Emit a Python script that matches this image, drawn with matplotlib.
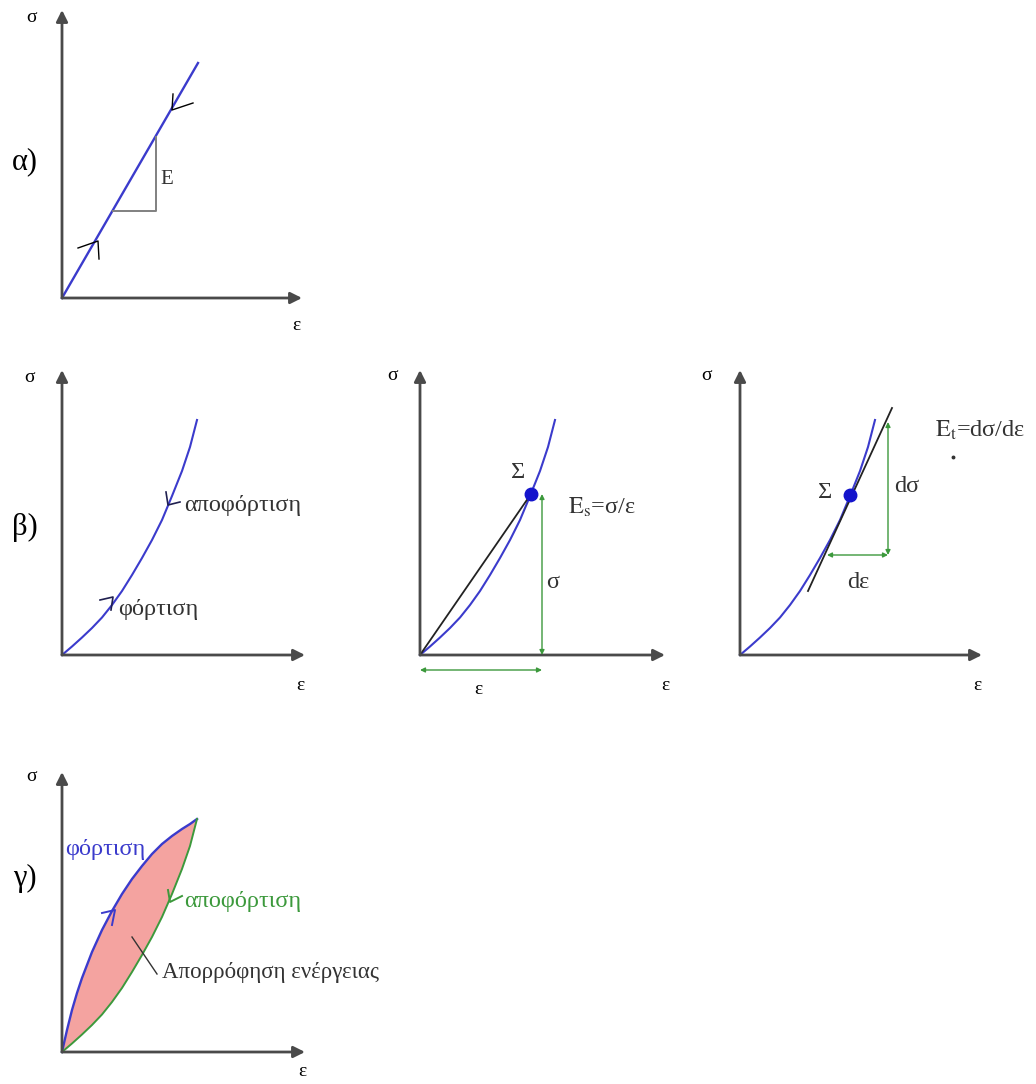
import matplotlib.pyplot as plt

plt.rcParams['font.family'] = ['Liberation Serif', 'DejaVu Serif']
plt.rcParams['mathtext.fontset'] = 'stix'

W, H = 1036, 1084
AXC = '#4a4a4a'
BLUE = '#3b3bcc'
GREEN = '#3c993c'
FILL = '#f4a3a0'

# α) linear elastic
lin_eps = [0, 1.36]
lin_sig = [0, 2.35]
slope_tri_eps = [0.51, 0.94, 0.94]
slope_tri_sig = [0.87, 0.87, 1.61]

# β) nonlinear elastic curve (read off the picture)
nl_eps = [0, 0.1, 0.2, 0.3, 0.4, 0.5, 0.6, 0.7, 0.8, 0.9, 1.0, 1.1, 1.2, 1.28, 1.35]
nl_sig = [0, 0.085, 0.175, 0.27, 0.375, 0.5, 0.64, 0.80, 0.97, 1.15, 1.35, 1.59, 1.84, 2.08, 2.35]

# point Σ, secant and tangent
pt_sec = (1.11, 1.61)
pt_tan = (1.10, 1.60)
tan_eps = [0.68, 1.52]
tan_sig = [0.64, 2.47]
dsig_x, dsig_y = 1.48, [1.00, 2.33]
deps_y, deps_x = 1.00, [0.87, 1.48]

# γ) hysteresis: loading (concave) and unloading (convex)
load_eps = [0, 0.05, 0.1, 0.15, 0.2, 0.3, 0.4, 0.5, 0.6, 0.7, 0.8, 0.9, 1.0, 1.1, 1.2, 1.28, 1.35]
load_sig = [0, 0.22, 0.42, 0.59, 0.74, 1.0, 1.22, 1.41, 1.58, 1.73, 1.86, 1.98, 2.08, 2.16, 2.23, 2.28, 2.33]
unl_eps = [0, 0.1, 0.2, 0.3, 0.4, 0.5, 0.6, 0.7, 0.8, 0.9, 1.0, 1.1, 1.2, 1.28, 1.35]
unl_sig = [0, 0.085, 0.175, 0.27, 0.375, 0.5, 0.64, 0.80, 0.97, 1.15, 1.35, 1.58, 1.83, 2.06, 2.33]

fig = plt.figure(figsize=(W / 100, H / 100), dpi=100)


def panel(ox, oy, xend=2.42, ytop=2.85):
    ax = fig.add_axes([(ox - 70) / W, 1 - (oy + 40) / H, 340 / W, 330 / H])
    ax.set_xlim(-0.70, 2.70)
    ax.set_ylim(-0.40, 2.90)
    ax.axis('off')
    for end in [(xend, 0), (0, ytop)]:
        ax.annotate('', xy=end, xytext=(0, 0),
                    arrowprops=dict(arrowstyle='-|>', color=AXC, lw=2.0,
                                    mutation_scale=17, shrinkA=0, shrinkB=0))
    return ax


def garrow(ax, p0, p1):
    ax.annotate('', xy=p1, xytext=p0,
                arrowprops=dict(arrowstyle='<|-|>', color=GREEN, lw=1.0,
                                mutation_scale=7, shrinkA=0, shrinkB=0))


fs = 17.5
small = 14
big = 22

# α)
ax = panel(62, 298, 2.40, 2.88)
ax.plot(lin_eps, lin_sig, color=BLUE, lw=1.7)
ax.plot(slope_tri_eps, slope_tri_sig, color='#808080', lw=1.4)
ax.plot([0.16, 0.36, 0.37], [0.50, 0.57, 0.39], color='black', lw=1.0)
ax.plot([1.31, 1.10, 1.11], [1.95, 1.88, 2.04], color='black', lw=1.0)
ax.text(0.98, 1.18, 'E', fontsize=15, ha='left', va='center', color='#333333')
ax.text(-0.30, 2.81, 'σ', fontsize=small, ha='center', va='center')
ax.text(2.34, -0.27, 'ε', fontsize=small, ha='center', va='center')
ax.text(-0.37, 1.36, 'α)', fontsize=big, ha='center', va='center')

# β) left
ax = panel(62, 655, 2.43, 2.85)
ax.plot(nl_eps, nl_sig, color=BLUE, lw=1.5)
ax.plot([1.04, 1.06, 1.18], [1.63, 1.50, 1.53], color='#202050', lw=1.2)
ax.plot([0.38, 0.51, 0.49], [0.55, 0.58, 0.45], color='#202050', lw=1.2)
ax.text(1.22, 1.50, 'αποφόρτιση', fontsize=fs, ha='left', va='center', color='#333333')
ax.text(0.56, 0.46, 'φόρτιση', fontsize=fs, ha='left', va='center', color='#333333')
ax.text(-0.32, 2.77, 'σ', fontsize=small, ha='center', va='center')
ax.text(2.38, -0.31, 'ε', fontsize=small, ha='center', va='center')
ax.text(-0.37, 1.28, 'β)', fontsize=big, ha='center', va='center')

# β) middle: secant modulus
ax = panel(420, 655, 2.45, 2.85)
ax.plot(nl_eps, nl_sig, color=BLUE, lw=1.5)
ax.plot([0, pt_sec[0]], [0, pt_sec[1]], color='#222222', lw=1.3)
ax.plot(*pt_sec, 'o', color='#1414cc', ms=9)
garrow(ax, (1.22, pt_sec[1]), (1.22, 0))
garrow(ax, (0, -0.15), (1.22, -0.15))
ax.text(0.98, 1.82, 'Σ', fontsize=fs, ha='center', va='center', color='#333333')
ax.text(1.48, 1.48, r'$\mathrm{E_s}$=σ/ε', fontsize=fs, ha='left', va='center', color='#333333')
ax.text(1.33, 0.73, 'σ', fontsize=fs, ha='center', va='center', color='#333333')
ax.text(0.58, -0.35, 'ε', fontsize=small, ha='center', va='center')
ax.text(-0.28, 2.80, 'σ', fontsize=small, ha='center', va='center')
ax.text(2.45, -0.31, 'ε', fontsize=small, ha='center', va='center')

# β) right: tangent modulus
ax = panel(740, 655, 2.42, 2.85)
ax.plot(nl_eps, nl_sig, color=BLUE, lw=1.5)
ax.plot(tan_eps, tan_sig, color='#222222', lw=1.3)
ax.plot(*pt_tan, 'o', color='#1414cc', ms=9)
garrow(ax, (dsig_x, dsig_y[0]), (dsig_x, dsig_y[1]))
garrow(ax, (deps_x[0], deps_y), (deps_x[1], deps_y))
ax.text(0.85, 1.63, 'Σ', fontsize=fs, ha='center', va='center', color='#333333')
ax.text(1.67, 1.68, 'dσ', fontsize=fs, ha='center', va='center', color='#333333')
ax.text(1.18, 0.73, 'dε', fontsize=fs, ha='center', va='center', color='#333333')
ax.text(1.95, 2.25, r'$\mathrm{E_t}$=dσ/dε', fontsize=fs, ha='left', va='center', color='#333333')
ax.plot(2.13, 1.98, 'o', color='#333333', ms=1.8)
ax.text(-0.33, 2.80, 'σ', fontsize=small, ha='center', va='center')
ax.text(2.37, -0.30, 'ε', fontsize=small, ha='center', va='center')

# γ) hysteresis
ax = panel(62, 1052, 2.43, 2.80)
ax.fill(load_eps + unl_eps[::-1], load_sig + unl_sig[::-1], color=FILL, lw=0)
ax.plot(load_eps, load_sig, color=BLUE, lw=1.7)
ax.plot(unl_eps, unl_sig, color=GREEN, lw=1.4)
ax.plot([0.40, 0.53, 0.50], [1.39, 1.42, 1.27], color=BLUE, lw=1.4)
ax.plot([1.20, 1.08, 1.06], [1.56, 1.50, 1.62], color=GREEN, lw=1.4)
ax.plot([0.70, 0.95], [1.15, 0.78], color='#333333', lw=1.0)
ax.text(0.03, 2.02, 'φόρτιση', fontsize=fs, ha='left', va='center', color=BLUE)
ax.text(1.22, 1.50, 'αποφόρτιση', fontsize=fs, ha='left', va='center', color=GREEN)
ax.text(1.00, 0.79, 'Απορρόφηση ενέργειας', fontsize=16.5, ha='left', va='center', color='#333333')
ax.text(-0.30, 2.75, 'σ', fontsize=small, ha='center', va='center')
ax.text(2.40, -0.20, 'ε', fontsize=small, ha='center', va='center')
ax.text(-0.37, 1.74, 'γ)', fontsize=big, ha='center', va='center')

fig.savefig('out.png', dpi=100)
